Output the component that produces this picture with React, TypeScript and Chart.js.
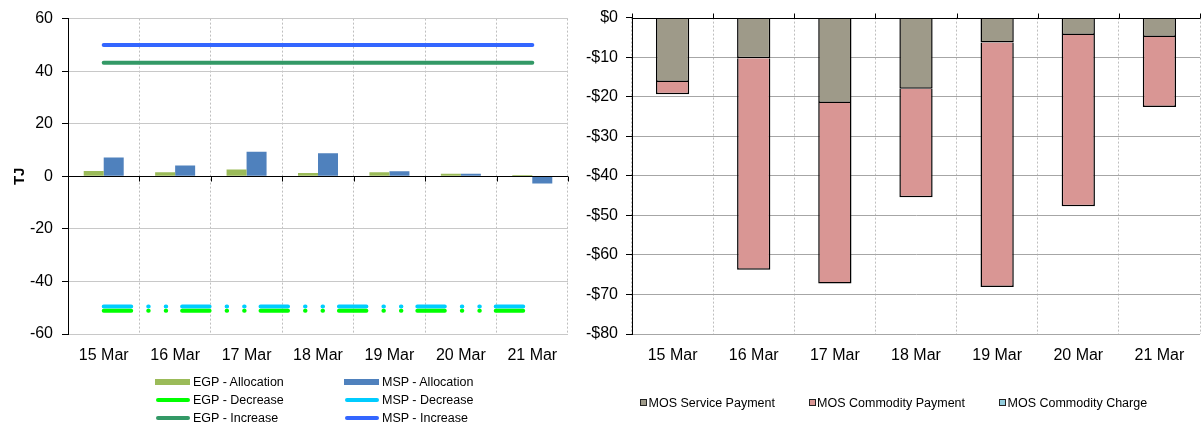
import React, { useEffect, useRef } from 'react';
import { Chart, registerables } from 'chart.js';

Chart.register(...registerables);

const FONT = '"Liberation Sans", Arial, sans-serif';

// ---- Left chart data (TJ) ----
const categories = ['15 Mar', '16 Mar', '17 Mar', '18 Mar', '19 Mar', '20 Mar', '21 Mar'];
const egpAllocation = [2.0, 1.5, 2.6, 1.25, 1.5, 1.0, 0.5];
const mspAllocation = [7.2, 4.1, 9.3, 8.75, 1.9, 1.0, -2.75];
const egpDecrease = [-51.2, -51.2, -51.2, -51.2, -51.2, -51.2, -51.2];
const mspDecrease = [-49.5, -49.5, -49.5, -49.5, -49.5, -49.5, -49.5];
const egpIncrease = [43.2, 43.2, 43.2, 43.2, 43.2, 43.2, 43.2];
const mspIncrease = [50, 50, 50, 50, 50, 50, 50];

// ---- Right chart data ($) ----
const mosServicePayment = [-16.3, -10.25, -21.6, -18.0, -6.3, -4.4, -4.9];
const mosCommodityPayment = [-3.1, -53.5, -45.6, -27.4, -61.8, -43.3, -17.7];
const mosCommodityCharge = [0, 0, 0, 0, 0, 0, 0];

const leftLegend = [
  { label: 'EGP - Allocation', color: '#9BBB59', kind: 'rect' },
  { label: 'MSP - Allocation', color: '#4F81BD', kind: 'rect' },
  { label: 'EGP - Decrease', color: '#00FF00', kind: 'line' },
  { label: 'MSP - Decrease', color: '#00CCFF', kind: 'line' },
  { label: 'EGP - Increase', color: '#339966', kind: 'line' },
  { label: 'MSP - Increase', color: '#3366FF', kind: 'line' },
];

const rightLegend = [
  { label: 'MOS Service Payment', color: '#9E9A89' },
  { label: 'MOS Commodity Payment', color: '#D99694' },
  { label: 'MOS Commodity Charge', color: '#93CDDD' },
];

const decreaseDash = [27.5, 17, 0.5, 17, 0.5, 15.9];

function zeroAxisPlugin(dir: number) {
  return {
    id: 'zeroAxis',
    afterDatasetsDraw(chart: any) {
      const x = chart.scales.x;
      const y = chart.scales.y;
      const ctx = chart.ctx;
      const y0 = Math.round(y.getPixelForValue(0)) + 0.5;
      ctx.save();
      ctx.strokeStyle = '#000';
      ctx.lineWidth = 1;
      ctx.beginPath();
      ctx.moveTo(x.left, y0);
      ctx.lineTo(x.right, y0);
      ctx.stroke();
      const n = categories.length;
      for (let i = 0; i <= n; i++) {
        const px = Math.round(x.left + (x.width * i) / n) + 0.5;
        ctx.beginPath();
        ctx.moveTo(px, y0);
        ctx.lineTo(px, y0 + dir * 5);
        ctx.stroke();
      }
      ctx.restore();
    },
  };
}

export default function App() {
  const leftRef = useRef<HTMLCanvasElement | null>(null);
  const rightRef = useRef<HTMLCanvasElement | null>(null);

  useEffect(() => {
    Chart.defaults.font.family = FONT;
    Chart.defaults.color = '#000';

    const lineDs = (label: string, data: number[], color: string, dash?: number[]) => ({
      type: 'line' as const,
      label,
      data,
      borderColor: color,
      backgroundColor: color,
      borderWidth: 4,
      borderDash: dash || [],
      borderCapStyle: 'round' as const,
      pointRadius: 0,
      fill: false,
      order: 1,
    });

    const left = new Chart(leftRef.current as HTMLCanvasElement, {
      type: 'bar',
      data: {
        labels: categories,
        datasets: [
          { type: 'bar', label: 'EGP - Allocation', data: egpAllocation, backgroundColor: '#9BBB59', borderWidth: 0, categoryPercentage: 0.56, barPercentage: 1, order: 2 },
          { type: 'bar', label: 'MSP - Allocation', data: mspAllocation, backgroundColor: '#4F81BD', borderWidth: 0, categoryPercentage: 0.56, barPercentage: 1, order: 2 },
          lineDs('EGP - Decrease', egpDecrease, '#00FF00', decreaseDash),
          lineDs('MSP - Decrease', mspDecrease, '#00CCFF', decreaseDash),
          lineDs('EGP - Increase', egpIncrease, '#339966'),
          lineDs('MSP - Increase', mspIncrease, '#3366FF'),
        ] as any,
      },
      options: {
        animation: false,
        responsive: false,
        layout: { padding: { left: 0, right: 7, top: 15, bottom: 0 } },
        plugins: { legend: { display: false }, tooltip: { enabled: false } },
        scales: {
          x: {
            offset: true,
            grid: { offset: true, color: '#BEBEBE', drawTicks: false },
            border: { display: false, dash: [2, 2] },
            ticks: { font: { size: 16, family: FONT }, color: '#000', padding: 12, maxRotation: 0 },
            afterFit: (s: any) => { s.height = 92; },
          },
          y: {
            min: -60,
            max: 60,
            ticks: { stepSize: 20, font: { size: 16, family: FONT }, color: '#000', padding: 9 },
            grid: {
              color: (c: any) => (c.tick && c.tick.value === 0 ? 'rgba(0,0,0,0)' : '#C8C8C8'),
              tickColor: '#000',
              tickLength: 6,
            },
            border: { color: '#000', width: 1 },
            title: { display: true, text: 'TJ', font: { size: 15, weight: 'bold', family: FONT }, color: '#000', padding: { top: 11, bottom: 0 } },
            afterFit: (s: any) => { s.width = 68; },
          },
        },
      } as any,
      plugins: [zeroAxisPlugin(1)],
    });

    const barDs = (label: string, data: number[], color: string) => ({
      label,
      data,
      backgroundColor: color,
      borderColor: '#000',
      borderWidth: 1.5,
      categoryPercentage: 0.41,
      barPercentage: 1,
    });

    const right = new Chart(rightRef.current as HTMLCanvasElement, {
      type: 'bar',
      data: {
        labels: categories,
        datasets: [
          barDs('MOS Service Payment', mosServicePayment, '#9E9A89'),
          barDs('MOS Commodity Payment', mosCommodityPayment, '#D99694'),
          barDs('MOS Commodity Charge', mosCommodityCharge, '#93CDDD'),
        ],
      },
      options: {
        animation: false,
        responsive: false,
        layout: { padding: { left: 0, right: 2, top: 15, bottom: 0 } },
        plugins: { legend: { display: false }, tooltip: { enabled: false } },
        scales: {
          x: {
            stacked: true,
            offset: true,
            grid: { offset: true, color: '#BEBEBE', drawTicks: false },
            border: { display: false, dash: [2, 2] },
            ticks: { font: { size: 16, family: FONT }, color: '#000', padding: 12, maxRotation: 0 },
            afterFit: (s: any) => { s.height = 92; },
          },
          y: {
            stacked: true,
            min: -80,
            max: 0,
            ticks: {
              stepSize: 10,
              font: { size: 16, family: FONT },
              color: '#000',
              padding: 8,
              callback: (v: any) => (Number(v) === 0 ? '$0' : '-$' + Math.abs(Number(v))),
            },
            grid: {
              color: (c: any) => (c.tick && c.tick.value === 0 ? 'rgba(0,0,0,0)' : '#A6A6A6'),
              tickColor: '#000',
              tickLength: 6,
            },
            border: { color: '#000', width: 1 },
            afterFit: (s: any) => { s.width = 57; },
          },
        },
      } as any,
      plugins: [zeroAxisPlugin(-1)],
    });

    return () => {
      left.destroy();
      right.destroy();
    };
  }, []);

  const textStyle: React.CSSProperties = {
    fontFamily: FONT,
    fontSize: '12.5px',
    color: '#000',
    whiteSpace: 'nowrap',
    lineHeight: '16px',
  };

  const leftCols = [155, 344];
  const leftRows = [382, 400.2, 418.2];
  const rightSquares = [640, 808.6, 999];

  return (
    <div style={{ position: 'absolute', left: 0, top: 0, width: 1202, height: 426, background: '#fff', overflow: 'hidden' }}>
      <div style={{ position: 'absolute', left: 0, top: 0, width: 575, height: 426 }}>
        <canvas ref={leftRef} width={575} height={426} style={{ width: 575, height: 426, display: 'block' }} />
      </div>
      <div style={{ position: 'absolute', left: 575, top: 0, width: 627, height: 426 }}>
        <canvas ref={rightRef} width={627} height={426} style={{ width: 627, height: 426, display: 'block' }} />
      </div>
      {leftLegend.map((item, i) => {
        const col = i % 2;
        const row = Math.floor(i / 2);
        const x = leftCols[col];
        const y = leftRows[row];
        return (
          <div key={item.label} style={{ position: 'absolute', left: x, top: y - 8, height: 16, display: 'flex', alignItems: 'center' }}>
            {item.kind === 'rect' ? (
              <span style={{ display: 'inline-block', width: 35, height: 6, background: item.color }} />
            ) : (
              <span style={{ display: 'inline-block', width: 34, height: 4, borderRadius: 2, background: item.color, marginLeft: 1 }} />
            )}
            <span style={{ ...textStyle, marginLeft: 3 }}>{item.label}</span>
          </div>
        );
      })}
      {rightLegend.map((item, i) => (
        <div key={item.label} style={{ position: 'absolute', left: rightSquares[i], top: 402.5 - 8, height: 16, display: 'flex', alignItems: 'center' }}>
          <span style={{ display: 'inline-block', width: 5, height: 5, background: item.color, border: '1px solid #222' }} />
          <span style={{ ...textStyle, marginLeft: 1.5 }}>{item.label}</span>
        </div>
      ))}
    </div>
  );
}
